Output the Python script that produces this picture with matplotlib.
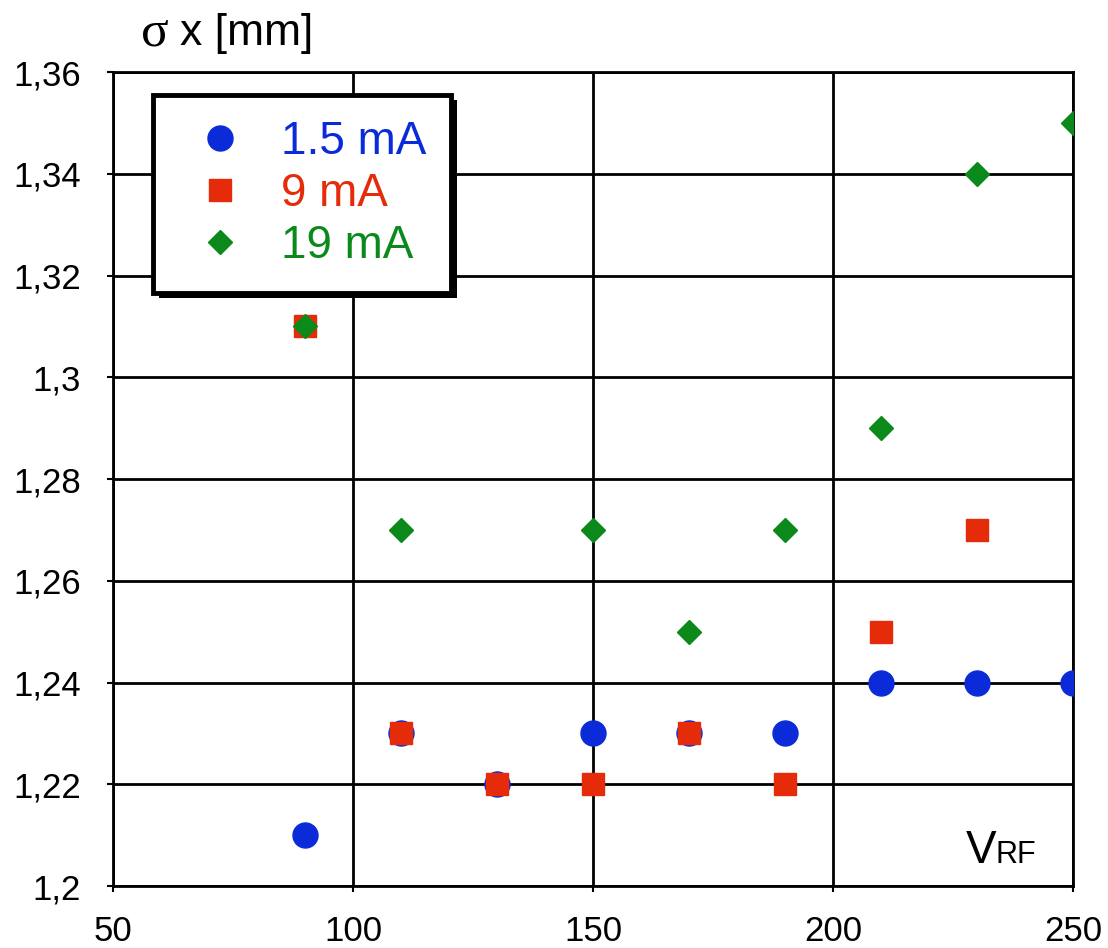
import matplotlib
matplotlib.use("Agg")
import matplotlib.pyplot as plt
import matplotlib.patheffects as pe

plt.rcParams['font.family'] = ['Liberation Sans', 'DejaVu Sans']

# data
v_rf = [90, 110, 130, 150, 170, 190, 210, 230, 250]
sigma_1_5mA = [1.21, 1.23, 1.22, 1.23, 1.23, 1.23, 1.24, 1.24, 1.24]

v_rf_9 = [90, 110, 130, 150, 170, 190, 210, 230]
sigma_9mA = [1.31, 1.23, 1.22, 1.22, 1.23, 1.22, 1.25, 1.27]

v_rf_19 = [90, 110, 150, 170, 190, 210, 230, 250]
sigma_19mA = [1.31, 1.27, 1.27, 1.25, 1.27, 1.29, 1.34, 1.35]

x_ticks = [50, 100, 150, 200, 250]
y_ticks = [1.2, 1.22, 1.24, 1.26, 1.28, 1.3, 1.32, 1.34, 1.36]
y_labels = ['1,2', '1,22', '1,24', '1,26', '1,28', '1,3', '1,32', '1,34', '1,36']

blue = '#0b2bd9'
red = '#e52b0a'
green = '#0b8a1b'

fig = plt.figure(figsize=(11.08, 9.48), dpi=100)
ax = fig.add_axes([113 / 1108, 1 - 886 / 948, 960 / 1108, 814 / 948])

ax.plot(v_rf, sigma_1_5mA, 'o', color=blue, markersize=18, label='1.5 mA', zorder=3)
ax.plot(v_rf_9, sigma_9mA, 's', color=red, markersize=16, label='9 mA', zorder=4)
ax.plot(v_rf_19, sigma_19mA, 'D', color=green, markersize=12.5, label='19 mA', zorder=5)

ax.set_xlim(50, 250)
ax.set_ylim(1.2, 1.36)
ax.set_xticks(x_ticks)
ax.set_yticks(y_ticks)
ax.set_yticklabels(y_labels)
ax.grid(True, color='black', linewidth=2)
ax.set_axisbelow(True)
for sp in ax.spines.values():
    sp.set_linewidth(2)
ax.tick_params(axis='both', direction='out', length=4, width=1.5, labelsize=25)
ax.tick_params(axis='y', pad=19)
ax.tick_params(axis='x', pad=17)

leg = ax.legend(loc='upper left', bbox_to_anchor=(0.042, 0.972), borderaxespad=0,
                fontsize=33, frameon=True, fancybox=False, handlelength=1.8,
                handletextpad=0.43, borderpad=0.55, labelspacing=0.17, numpoints=1)
frame = leg.get_frame()
frame.set_edgecolor('black')
frame.set_linewidth(3.5)
frame.set_alpha(1)
frame.set_path_effects([pe.SimplePatchShadow(offset=(4, -4), shadow_rgbFace='black', alpha=1),
                        pe.Normal()])
for txt, c in zip(leg.get_texts(), [blue, red, green]):
    txt.set_color(c)

# y axis title
fig.text(141 / 1108, 1 - 45 / 948, '\u03c3', fontsize=37, family=['Liberation Serif', 'DejaVu Serif'],
         va='baseline', ha='left')
fig.text(180 / 1108, 1 - 45 / 948, 'x [mm]', fontsize=32, va='baseline', ha='left')

# x axis title
fig.text(966 / 1108, 1 - 863 / 948, 'V', fontsize=33, va='baseline', ha='left')
fig.text(996 / 1108, 1 - 863 / 948, 'RF', fontsize=22, va='baseline', ha='left')

fig.savefig('out.png', dpi=100)
